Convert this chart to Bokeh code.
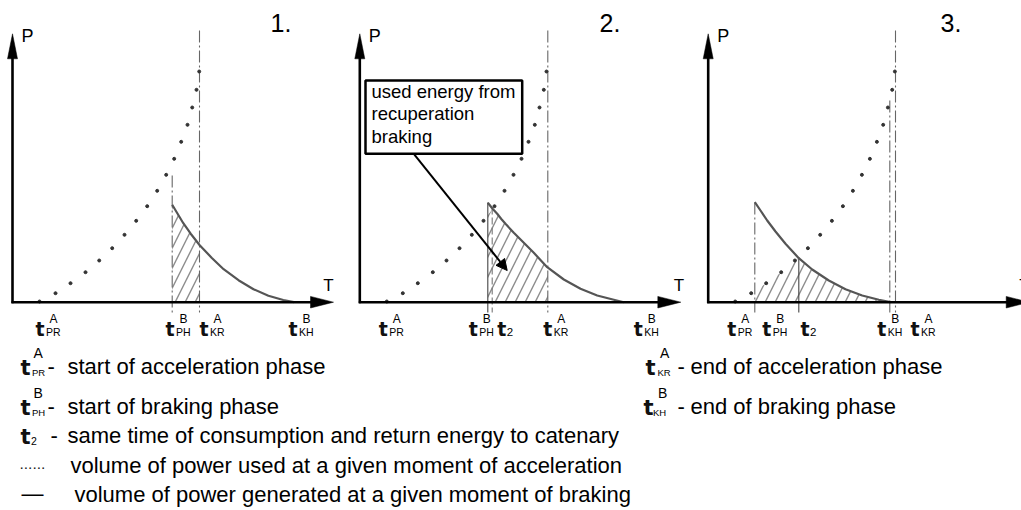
import numpy as np
from bokeh.plotting import figure
from bokeh.models import Range1d, Arrow, NormalHead
from bokeh.core.properties import value
from bokeh.embed import file_html
from bokeh.resources import INLINE

# ---------------- data ----------------
# time measured from the P axis, power measured above the T axis (same units in each panel)
accel_t = [27, 43, 58, 73, 86.7, 99.7, 112, 123.7, 134.7, 144.7, 153.7, 161.7, 168.7, 175, 179.7, 184, 186.7]
accel_p = [0.7, 9, 19, 30, 41.7, 54, 67.4, 81.4, 96, 111.4, 127.4, 143.4, 160.4, 177.4, 194.7, 212.4, 230.7]

brake1_t = [159.7, 164.8, 170.8, 178.2, 187.2, 199.1, 211.1, 226, 241, 255.9, 270.8, 281.3]
brake1_p = [97.5, 89, 79, 68.5, 57, 44.5, 33, 22, 13, 6.5, 2.2, 0]
brake2_t = [128, 133, 137.4, 141.5, 145.7, 154, 164, 174, 187.4, 204, 220.7, 237.4, 254, 264]
brake2_p = [99.4, 93.2, 88.4, 83.2, 78.4, 69.4, 59.4, 49.4, 35, 22.7, 13.4, 6.7, 2.4, 0]
brake3_t = [46.6, 52.3, 59, 67.3, 77.3, 90.6, 104, 120.6, 137.3, 154, 170.6, 182.3]
brake3_p = [100, 91.7, 81.7, 70.7, 58.4, 44, 32.7, 21.7, 13, 6.7, 2.4, 0]

# hatched (used energy) spans per panel
hatch_spans = [(159.7, 187), (128, 188), (46.6, 182.3)]

# vertical marker lines per panel: (time, top power, style)
markers1 = [(159.7, 126.7, "dashdot"), (187, 271.7, "dashdot")]
markers2 = [(128, 99.7, "solid"), (132.4, 94.7, "dashed"), (188, 271.7, "dashdot")]
markers3 = [(46.6, 99.7, "dashdot"), (90.6, 45, "solid"), (181.6, 201.7, "dashdot"), (187.3, 271.7, "dashdot")]

# tick labels per panel: (superscript, subscript, left of "t")
ticks1 = [("A", "PR", 23), ("B", "PH", 153), ("A", "KR", 187), ("B", "KH", 276)]
ticks2 = [("A", "PR", 19), ("B", "PH", 109), ("", "2", 137.4), ("A", "KR", 183.4), ("B", "KH", 274)]
ticks3 = [("A", "PR", 19), ("B", "PH", 54), ("", "2", 92.3), ("B", "KH", 169), ("A", "KR", 202.3)]

panel_titles = ["1.", "2.", "3."]
box_lines = ["used energy from", "recuperation", "braking"]
legend_left = [("A", "PR", "start of acceleration phase"),
               ("B", "PH", "start of braking phase"),
               ("", "2", "same time of consumption and return energy to catenary")]
legend_dotted = "volume of power used at a given moment of acceleration"
legend_solid = "volume of power generated at a given moment of braking"
legend_right = [("A", "KR", "end of acceleration phase"), ("B", "KH", "end of braking phase")]

# ---------------- layout ----------------
W, H = 1021, 510
origins = [12, 359.3, 707.7]
axis_y = 301.7
title_x = [270, 599, 940]
T_x = [310.7, 314, 311]
x_len = 321
y_tip = 268.4
p_bottom = -10.3
BASE_FIX = 0.39   # renderer places alphabetic baseline ~0.39em low; compensate

FONT = "Liberation Sans"
TFONT = "DejaVu Sans"

p = figure(width=W, height=H, x_range=Range1d(0, W), y_range=Range1d(H, 0),
           output_backend="svg", toolbar_location=None,
           x_axis_location=None, y_axis_location=None, min_border=0)
p.outline_line_color = None
p.grid.visible = False
p.background_fill_color = "white"
p.border_fill_color = "white"


def txt(x, y, s, size, font=FONT, style="normal", align="left", baseline="alphabetic", color="black"):
    if baseline == "alphabetic":
        y = y - BASE_FIX * size
    p.text(x=[x], y=[y], text=[s], text_font=value(font), text_font_size=f"{size}px",
           text_font_style=style, text_align=align, text_baseline=baseline, text_color=color)


def tsym(x, base, sup, sub, tsize, supsize, subsize, sup_dx, sub_dx, sup_rise):
    txt(x, base, "t", tsize, font=TFONT, style="bold", color="#111111")
    if sup:
        txt(x + sup_dx, base - sup_rise, sup, supsize)
    if sub == "2":
        txt(x + sub_dx - 1, base, sub, subsize + 1)
    else:
        txt(x + sub_dx, base, sub, subsize)


dash_styles = {"dashdot": "12 3 2 3", "dashed": "7 3", "solid": "solid"}
marker_colors = {"dashdot": "#666666", "dashed": "#777777", "solid": "#444444"}

brakes = [(brake1_t, brake1_p), (brake2_t, brake2_p), (brake3_t, brake3_p)]
markers = [markers1, markers2, markers3]
ticks = [ticks1, ticks2, ticks3]

for i, o in enumerate(origins):
    bt, bp = brakes[i]
    bt_a = np.array(bt)
    bp_a = np.array(bp)
    at_a = np.array(accel_t)
    ap_a = np.array(accel_p)

    # hatched region: under the lower of the two power curves
    a, b = hatch_spans[i]
    ts = np.unique(np.concatenate([[a, b], bt_a[(bt_a > a) & (bt_a < b)], at_a[(at_a > a) & (at_a < b)]]))
    top = np.minimum(np.interp(ts, bt_a, bp_a, right=0.0), np.interp(ts, at_a, ap_a))
    hx = np.concatenate([[a], ts, [b]]) + o
    hy = axis_y - np.concatenate([[0], top, [0]])
    p.patch(hx, hy, fill_color=None, line_color=None, hatch_pattern="/",
            hatch_color="#8c8c8c", hatch_scale=20, hatch_weight=1.4)

    # vertical marker lines
    for (t, ptop, style) in markers[i]:
        p.line([o + t, o + t], [axis_y - ptop, axis_y - p_bottom], line_width=1.1,
               line_color=marker_colors[style], line_dash=dash_styles[style])

    # braking curve
    p.line(o + bt_a, axis_y - bp_a, line_width=2.2, line_color="#555555", line_join="round")

    # acceleration dots
    p.scatter(o + at_a, axis_y - ap_a, size=3, color="#333333", marker="circle")

    # axes with arrow heads
    p.line([o, o], [axis_y + 1, axis_y - y_tip + 24], line_width=2.6, line_color="black")
    p.patch([o, o - 5, o + 5], [axis_y - y_tip, axis_y - y_tip + 25, axis_y - y_tip + 25],
            fill_color="black", line_color="black", line_width=0.5)
    p.line([o - 1, o + x_len - 22], [axis_y, axis_y], line_width=2.6, line_color="black")
    p.patch([o + x_len, o + x_len - 23, o + x_len - 23], [axis_y, axis_y - 5.8, axis_y + 5.8],
            fill_color="black", line_color="black", line_width=0.5)

    txt(o + 9, 43, "P", 18)
    txt(o + T_x[i], 292, "T", 17)
    txt(title_x[i], 32, panel_titles[i], 25)

    for (sup, sub, left) in ticks[i]:
        tsym(o + left, 336, sup, sub, 19, 12, 10.5, 14, 10.5, 13)

# annotation box in panel 2 with arrow
p.add_layout(Arrow(end=NormalHead(size=11, fill_color="black", line_color="black"),
                   x_start=413.3, y_start=153.3, x_end=506.7, y_end=270,
                   line_width=2, line_color="black"))
p.quad(left=[365], right=[521.7], top=[80], bottom=[153.3], fill_color="white",
       line_color="black", line_width=2.5)
for k, line in enumerate(box_lines):
    txt(371, 98 + 22.5 * k, line, 18.5)

# legend
base_left = [376, 416, 445]
for k, (sup, sub, desc) in enumerate(legend_left):
    tsym(20, base_left[k], sup, sub, 21, 14, 9.5, 13, 11.5, 18)
    txt(47 if k < 2 else 50, base_left[k] - 1, "-", 22)
    txt(67, base_left[k] - 1, desc, 22)

txt(19, 470, "......", 15.5, color="#222222")
txt(70, 473.5, legend_dotted, 22)
txt(21, 493, "\u2014", 22, baseline="middle")
txt(74, 503, legend_solid, 22)

base_right = [376, 416]
right_x = [645, 643]
for k, (sup, sub, desc) in enumerate(legend_right):
    tsym(right_x[k], base_right[k], sup, sub, 21, 14, 9.5, 14.5, 12 if k == 0 else 9.5, 18)
    txt(677, base_right[k] - 1, "-", 22)
    txt(690, base_right[k] - 1, desc, 22)

open("out.html", "w").write(file_html(p, INLINE))
